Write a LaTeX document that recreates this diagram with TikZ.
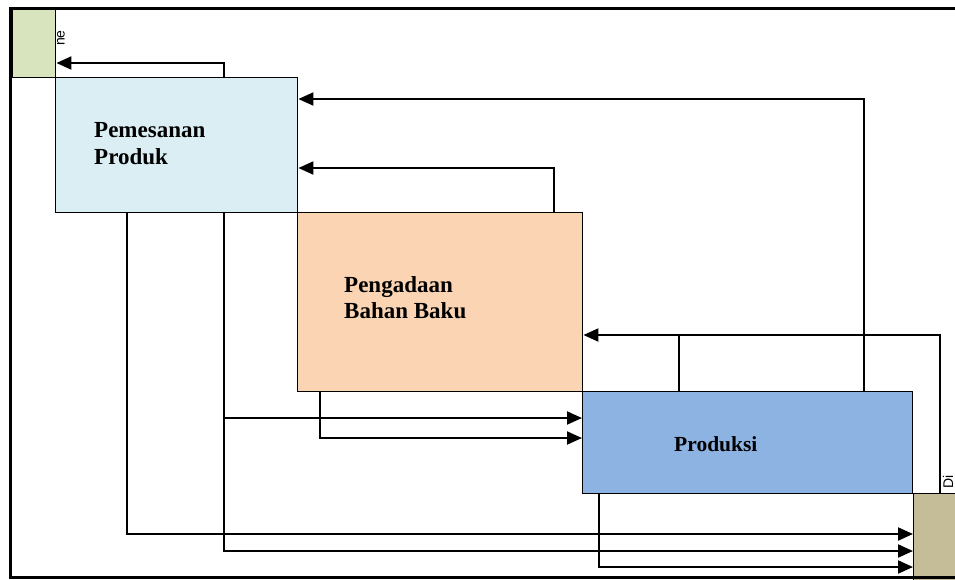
\documentclass[tikz,border=0pt]{standalone}
\usepackage{fontspec}
\setmainfont{Liberation Serif}
\newfontfamily\lblsans{Liberation Sans}
\usetikzlibrary{arrows.meta}
\definecolor{cgreen}{HTML}{D7E4BD}
\definecolor{cpem}{HTML}{DAEEF3}
\definecolor{cpeng}{HTML}{FBD4B4}
\definecolor{cprod}{HTML}{8DB3E2}
\definecolor{ctan}{HTML}{C4BD97}
\tikzset{
  box/.style={draw=black, line width=1.4pt, inner sep=0pt, anchor=north west},
  conn/.style={draw=black, line width=2pt},
  arr/.style={conn, -{Triangle[length=15pt,width=13pt]}},
  lbl/.style={inner sep=0pt, anchor=base west, font=\fontsize{21.5}{26}\selectfont\bfseries},
  wide/.style={lbl, font=\fontsize{23}{27}\selectfont\bfseries},
  side/.style={inner sep=0pt, rotate=90, font=\lblsans\fontsize{14}{16}\selectfont}
}
\begin{document}
\begin{tikzpicture}[x=1pt,y=-1pt]
\useasboundingbox (0,0) rectangle (955,579);
% boxes
\node[box, fill=cgreen, minimum width=43pt, minimum height=68pt] (grn) at (12,9) {};
\node[box, fill=cpem, minimum width=242pt, minimum height=135pt] (pem) at (55,77) {};
\node[box, fill=cpeng, minimum width=285pt, minimum height=179pt] (peng) at (297,212) {};
\node[box, fill=cprod, minimum width=330pt, minimum height=102pt] (prod) at (582,391) {};
\node[box, fill=ctan, minimum width=50pt, minimum height=90pt] (tan) at (913,493) {};
% junction coordinates
\coordinate (c1) at (224,63);
\coordinate (c2) at (864,99);
\coordinate (c3) at (554,168);
\coordinate (c4) at (940,335);
\coordinate (c5) at (679,335);
\coordinate (c6) at (224,418);
\coordinate (c7) at (320,438);
\coordinate (c8) at (127,534);
\coordinate (c9) at (224,551);
\coordinate (c10) at (599,567);
% connectors
\draw[arr] (pem.north -| c1) |- (grn.east |- c1);
\draw[arr] (prod.north -| c2) |- (pem.east |- c2);
\draw[arr] (peng.north -| c3) |- (pem.east |- c3);
\draw[arr] (tan.north -| c4) |- (peng.east |- c4);
\draw[conn] (prod.north -| c5) -- (c5);
\draw[arr] (pem.south -| c9) |- (tan.west |- c9);
\draw[arr] (pem.south -| c6) |- (prod.west |- c6);
\draw[arr] (peng.south -| c7) |- (prod.west |- c7);
\draw[arr] (pem.south -| c8) |- (tan.west |- c8);
\draw[arr] (prod.south -| c10) |- (tan.west |- c10);
% labels
\node[wide] (pemA) at (94,137) {Pemesanan};
\node[wide] (pemB) at (94,164) {Produk};
\node[wide] (pengA) at (344,292) {Pengadaan};
\node[wide] (pengB) at (344,318) {Bahan Baku};
\node[lbl] (prodA) at (674,451) {Produksi};
\node[side] (neTxt) at (61,38) {ne};
\node[side] (diTxt) at (948,482) {Di};
% outer frame
\coordinate (fTR) at (955,8.5);
\coordinate (fTL) at (10.5,8.5);
\coordinate (fBL) at (10.5,577.5);
\coordinate (fBR) at (955,577.5);
\draw[line width=3pt] (fTR) -- (fTL) -- (fBL) -- (fBR);
\end{tikzpicture}
\end{document}
